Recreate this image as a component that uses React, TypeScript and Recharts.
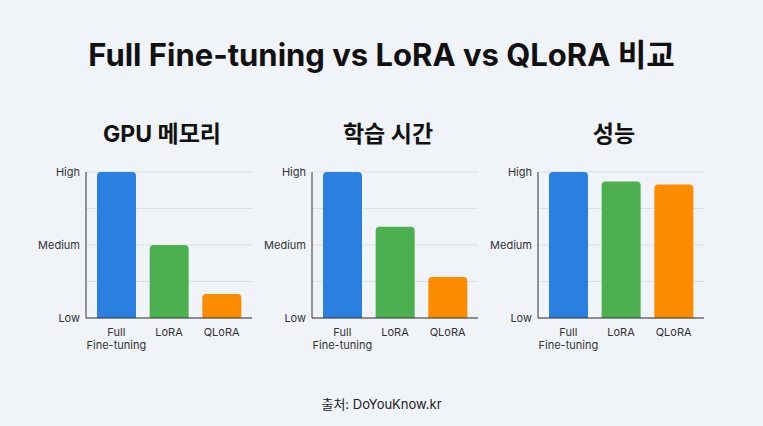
import React from 'react';
import { BarChart, Bar, XAxis, YAxis, CartesianGrid, Cell } from 'recharts';

const categories = ['Full Fine-tuning', 'LoRA', 'QLoRA'];
const barColors = ['#2B7FE0', '#4CAF50', '#FB8C00'];
const memoryValues = [2, 1, 0.33];
const trainTimeValues = [2, 1.25, 0.56];
const performanceValues = [2, 1.87, 1.83];
const yTicks = [0, 0.5, 1, 1.5, 2];
const yTickLabels: Record<number, string> = { 0: 'Low', 1: 'Medium', 2: 'High' };

const panels = [
    { title: 'GPU 메모리', values: memoryValues },
    { title: '학습 시간', values: trainTimeValues },
    { title: '성능', values: performanceValues },
];

const FONT = 'Inter, "Noto Sans CJK KR", "Noto Sans", sans-serif';

// splits "Full Fine-tuning" onto two lines, like the original
const CategoryTick = (props: any) => {
    const { x, y, payload } = props;
    const lines = String(payload.value).split(' ');
    return (
        <g transform={`translate(${x},${y})`}>
            {lines.map((line, i) => (
                <text
                    key={i}
                    x={0}
                    y={0}
                    dy={10 + i * 12.5}
                    textAnchor="middle"
                    fontSize={11}
                    fill="#333"
                    fontFamily={FONT}
                >
                    {line}
                </text>
            ))}
        </g>
    );
};

const Panel = ({ title, values, left }: { title: string; values: number[]; left: number }) => {
    const data = categories.map((name, i) => ({ name, value: values[i] }));
    return (
        <>
            <div
                style={{
                    position: 'absolute',
                    left: left + 126 - 150,
                    width: 300,
                    top: 115,
                    textAlign: 'center',
                    fontSize: 23,
                    fontWeight: 700,
                    color: '#111',
                    fontFamily: FONT,
                }}
            >
                {title}
            </div>
            <div style={{ position: 'absolute', left, top: 162 }}>
                <BarChart width={226} height={200} data={data} margin={{ top: 10, right: 10, left: 0, bottom: 0 }}>
                    <CartesianGrid vertical={false} stroke="#dce0e6" />
                    <XAxis
                        dataKey="name"
                        interval={0}
                        padding={{ left: 4, right: 4 }}
                        tickLine={false}
                        axisLine={{ stroke: '#333' }}
                        tick={<CategoryTick />}
                        height={44}
                    />
                    <YAxis
                        domain={[0, 2]}
                        ticks={yTicks}
                        interval={0}
                        width={50}
                        tickLine={false}
                        tickSize={4}
                        axisLine={{ stroke: '#333' }}
                        tickFormatter={v => yTickLabels[v] ?? ''}
                        tick={{ fontSize: 11, fill: '#333', fontFamily: FONT }}
                    />
                    <Bar dataKey="value" barSize={39} radius={[4, 4, 0, 0]} isAnimationActive={false}>
                        {data.map((_, i) => (
                            <Cell key={i} fill={barColors[i]} />
                        ))}
                    </Bar>
                </BarChart>
            </div>
        </>
    );
};

export default function App() {
    return (
        <div
            style={{
                position: 'fixed',
                left: 0,
                top: 0,
                width: 763,
                height: 426,
                background: '#f0f3f8',
                overflow: 'hidden',
                fontFamily: FONT,
            }}
        >
            <div
                style={{
                    position: 'absolute',
                    top: 30,
                    left: 0,
                    width: 763,
                    textAlign: 'center',
                    fontSize: 31,
                    fontWeight: 700,
                    color: '#111',
                }}
            >
                Full Fine-tuning vs LoRA vs QLoRA 비교
            </div>
            {panels.map((p, i) => (
                <Panel key={p.title} title={p.title} values={p.values} left={36 + i * 226} />
            ))}
            <div
                style={{
                    position: 'absolute',
                    top: 394,
                    left: 0,
                    width: 763,
                    textAlign: 'center',
                    fontSize: 13,
                    color: '#222',
                }}
            >
                출처: DoYouKnow.kr
            </div>
        </div>
    );
}
